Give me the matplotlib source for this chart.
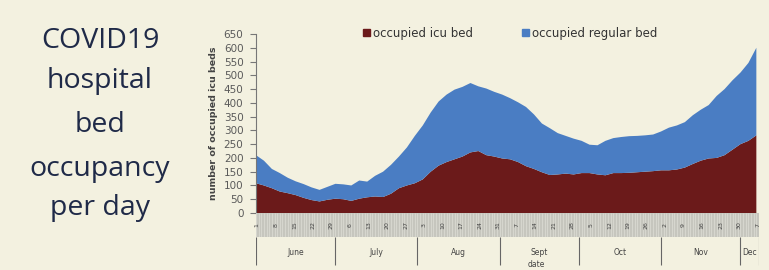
import matplotlib
matplotlib.use("Agg")
import matplotlib.pyplot as plt
from matplotlib.patches import Patch

# ---- data (day index 0 = 1 June, every 3 days) ----
days = list(range(0, 190, 3))
icu = [108, 100, 90, 78, 72, 65, 55, 47, 42, 48, 52, 50, 44, 52, 57, 60, 58, 70, 90, 100,
       108, 122, 150, 172, 185, 195, 205, 220, 225, 210, 205, 198, 195, 185, 170, 160, 148, 138,
       140, 143, 140, 145, 145, 140, 137, 145, 145, 146, 148, 150, 152, 155, 155, 158, 165, 178,
       190, 198, 200, 210, 230, 250, 262, 282]
regular = [102, 90, 70, 67, 56, 50, 50, 46, 42, 47, 54, 54, 56, 66, 57, 75, 92, 105, 115, 138,
           172, 196, 215, 233, 245, 253, 253, 252, 235, 242, 235, 232, 222, 217, 215, 198, 177, 170,
           150, 137, 130, 117, 103, 106, 125, 127, 131, 133, 132, 132, 133, 141, 155, 160, 165, 177,
           185, 194, 225, 240, 252, 260, 283, 318]
months = ["June", "July", "Aug", "Sept", "Oct", "Nov", "Dec"]
month_start = [0, 30, 61, 92, 122, 153, 183, 190]
tick_days = list(range(0, 190, 7))
tick_labels = ["1", "8", "15", "22", "29", "6", "13", "20", "27", "3", "10", "17", "24", "31",
               "7", "14", "21", "28", "5", "12", "19", "26", "2", "9", "16", "23", "30", "7"]
yticks = list(range(0, 651, 50))

BG = "#F3F1E0"
RED = "#6B1A1A"
BLUE = "#4A7DC3"
NAVY = "#1F2A48"

W, H = 769, 270
fig = plt.figure(figsize=(W / 100, H / 100), dpi=100, facecolor=BG)

def fx(px):
    return px / W

def fy(py):
    return 1 - py / H

x0, x1 = 256, 759
ax = fig.add_axes([fx(x0), fy(213), fx(x1 - x0), fy(34) - fy(213)])
ax.set_facecolor(BG)
ax.stackplot(days, icu, regular, colors=[RED, BLUE], linewidth=0)
ax.set_xlim(0, 190)
ax.set_ylim(0, 650)
ax.set_xticks([])
ax.set_yticks(yticks)
ax.set_yticklabels([str(v) for v in yticks], fontsize=7.5, color="#5a5a5a")
ax.tick_params(axis="y", length=4, color="#777777", pad=5)
for s in ["top", "right", "bottom"]:
    ax.spines[s].set_visible(False)
ax.spines["left"].set_color("#777777")
ax.set_ylabel("number of occupied icu beds", fontsize=6.8, color="#444444",
              fontweight="bold", labelpad=4)

# grey date band
band = fig.add_axes([fx(x0), fy(237), fx(x1 - x0), fy(213) - fy(237)])
band.set_facecolor("#C6C6BE")
band.set_xlim(0, 190)
band.set_ylim(0, 1)
band.vlines(range(0, 191), 0, 1, color="#DADAD2", lw=0.6)
for d, lab in zip(tick_days, tick_labels):
    band.text(d + 0.5, 0.5, lab, rotation=90, ha="center", va="center",
              fontsize=4.5, color="#444444")
band.set_xticks([])
band.set_yticks([])
for s in band.spines.values():
    s.set_visible(False)

# month row
mrow = fig.add_axes([fx(x0), 0, fx(x1 - x0), fy(237)])
mrow.patch.set_alpha(0)
mrow.set_xlim(0, 190)
mrow.set_ylim(0, 1)
mrow.axis("off")
mrow.vlines(month_start, 0.15, 1, color="#666666", lw=0.8)
for i, m in enumerate(months):
    c = (month_start[i] + month_start[i + 1]) / 2
    mrow.text(c, 0.52, m, ha="center", va="center", fontsize=5.5, color="#444444")
mrow.text(106, 0.03, "date", ha="center", va="bottom", fontsize=5.5, color="#444444")

# legend
handles = [Patch(color=RED, label="occupied icu bed"),
           Patch(color=BLUE, label="occupied regular bed")]
fig.legend(handles=handles, loc="center left", bbox_to_anchor=(fx(352), fy(33)), ncol=2,
           frameon=False, fontsize=8.5, handlelength=0.6, handleheight=0.6,
           handletextpad=0.25, columnspacing=4.2, labelcolor="#333333")

# title block
title_lines = ["COVID19", "hospital", "bed", "occupancy", "per day"]
baselines = [48, 88, 132, 176, 215]
for t, b in zip(title_lines, baselines):
    fig.text(fx(100), fy(b), t, ha="center", va="baseline", fontsize=20.5,
             color=NAVY, family="Open Sans", fontweight="medium")

fig.savefig("out.png", dpi=100, facecolor=BG)
